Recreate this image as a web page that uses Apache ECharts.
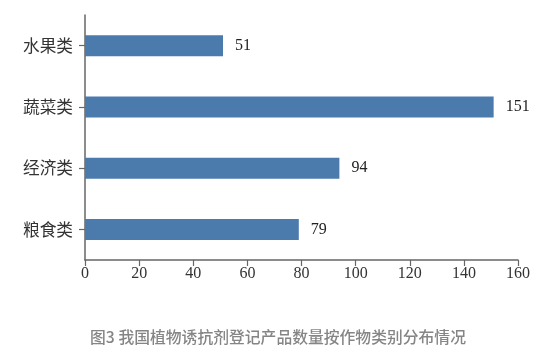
<!DOCTYPE html>
<html><head><meta charset="utf-8">
<script src="https://cdn.jsdelivr.net/npm/echarts@6/dist/echarts.min.js"></script>
<style>html,body{margin:0;padding:0;background:#fff}#c{width:556px;height:351px}</style>
</head><body><div id="c"></div>
<script>
const categories = ['粮食类', '经济类', '蔬菜类', '水果类'];
const values = [79, 94, 151, 51];
const xTicks = [0, 20, 40, 60, 80, 100, 120, 140, 160];
const caption = '图3 我国植物诱抗剂登记产品数量按作物类别分布情况';

const chart = echarts.init(document.getElementById('c'));
chart.setOption({
  animation: false,
  backgroundColor: '#ffffff',
  title: {
    text: caption, left: 'center', top: 324,
    textStyle: { color: '#858585', fontSize: 15.8, fontWeight: 500, fontFamily: 'Noto Sans CJK SC' }
  },
  grid: { left: 85, right: 38, top: 15, height: 245 },
  xAxis: {
    type: 'value', min: xTicks[0], max: xTicks[xTicks.length - 1], interval: 20,
    splitLine: { show: false },
    axisLine: { show: true, lineStyle: { color: '#666', width: 1.5 } },
    axisTick: { show: true, length: 6, lineStyle: { color: '#666', width: 1.2 } },
    axisLabel: { color: '#333', fontSize: 16, fontFamily: 'Liberation Serif', margin: 6 }
  },
  yAxis: {
    type: 'category', data: categories,
    axisLine: { show: true, lineStyle: { color: '#666', width: 1.5 } },
    axisTick: { show: true, length: 6, alignWithLabel: true, lineStyle: { color: '#666', width: 1.2 } },
    axisLabel: { color: '#333', fontSize: 16.7, fontFamily: 'Noto Sans CJK SC', margin: 12 }
  },
  series: [{
    type: 'bar', data: values, barWidth: 21,
    itemStyle: { color: '#4b7aad' },
    label: { show: true, position: 'right', distance: 12, color: '#222', fontSize: 16, fontFamily: 'Liberation Serif' }
  }]
});
</script></body></html>
